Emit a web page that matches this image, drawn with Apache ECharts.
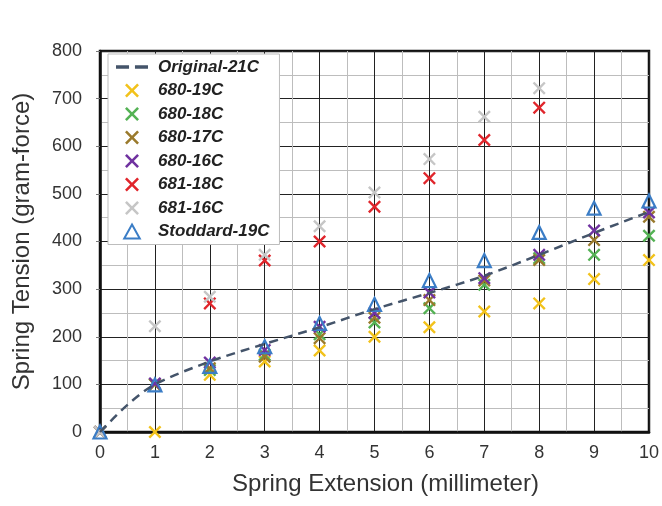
<!DOCTYPE html>
<html>
<head>
<meta charset="utf-8">
<script src="https://cdn.jsdelivr.net/npm/echarts@6/dist/echarts.min.js"></script>
<style>
  html, body { margin: 0; padding: 0; background: #fff; }
  #chart { width: 662px; height: 506px; }
</style>
</head>
<body>
<div id="chart"></div>
<script>
  // spring extension in millimeter (x positions of the measured points)
  const extension = [0, 1, 2, 3, 4, 5, 6, 7, 8, 9, 10];

  // tension in gram-force (null = no point)
  const s680_19C = [0, 0, 120, 148, 171, 200, 220, 253, 270, 321, 361];
  const s680_18C = [0, 100, 130, 162, 205, 230, 260, 309, 365, 372, 412];
  const s680_17C = [0, 100, 134, 158, 197, 240, 277, 318, 361, 403, 452];
  const s680_16C = [0, 102, 146, 172, 221, 250, 293, 323, 372, 423, 461];
  const s681_18C = [null, null, 270, 360, 400, 473, 533, 613, 681, null, null];
  const s681_16C = [0, 222, 284, 372, 432, 503, 573, 662, 722, null, null];
  const stoddard = [0, 99, 138, 179, 228, 268, 318, 360, 419, 470, 485];

  // reference curve Original-21C
  const originalX = [0, 0.5, 1, 2, 3, 4, 5, 6, 7, 8, 9, 10];
  const originalY = [0, 57, 100, 148, 185, 220, 258, 292, 328, 372, 418, 462];

  const xTicks = [0, 10, 1];
  const yTicks = [0, 800, 100];

  const FONT = '"Liberation Sans", Arial, sans-serif';
  const CROSS = 'path://M0,1.3L1.3,0L5,3.7L8.7,0L10,1.3L6.3,5L10,8.7L8.7,10L5,6.3L1.3,10L0,8.7L3.7,5Z';
  const DASHES = 'path://M0,0H11V3H0Z M16,0H27V3H16Z';
  const TRI = 'path://M5,0L10,9L0,9Z';

  function pairs(xs, ys) {
    const out = [];
    xs.forEach((x, i) => { if (ys[i] != null) out.push([x, ys[i]]); });
    return out;
  }

  function crossSeries(name, color, values) {
    return {
      name: name,
      type: 'scatter',
      symbol: CROSS,
      symbolSize: 13,
      itemStyle: { color: color, opacity: 1 },
      data: pairs(extension, values),
    };
  }

  const myChart = echarts.init(document.getElementById('chart'), null, { renderer: 'canvas' });
  myChart.setOption({
    backgroundColor: '#fff',
    animation: false,
    textStyle: { fontFamily: FONT },
    grid: {
      left: 100, right: 12, top: 51, bottom: 74,
      show: true, borderColor: '#111', borderWidth: 2.5,
    },
    legend: {
      orient: 'vertical',
      left: 108,
      top: 54,
      padding: [4, 10, 4, 8],
      backgroundColor: '#fff',
      borderColor: '#bdbdbd',
      borderWidth: 1,
      itemWidth: 32,
      itemHeight: 14,
      itemGap: 5.5,
      textStyle: {
        fontFamily: FONT, fontSize: 17, fontStyle: 'italic', fontWeight: 'bold',
        color: '#222', lineHeight: 18, padding: [0, 0, 0, 5],
      },
      data: [
        { name: 'Original-21C', icon: DASHES },
        '680-19C', '680-18C', '680-17C', '680-16C', '681-18C', '681-16C',
        { name: 'Stoddard-19C', icon: TRI },
      ],
    },
    xAxis: {
      type: 'value',
      min: xTicks[0], max: xTicks[1], interval: xTicks[2],
      name: 'Spring Extension (millimeter)',
      nameLocation: 'middle',
      nameGap: 40,
      nameTextStyle: { fontSize: 24, color: '#333', fontFamily: FONT, padding: [0, 0, 0, 22] },
      axisLine: { show: true, lineStyle: { color: '#111', width: 2.5 } },
      axisTick: { show: false },
      axisLabel: { fontSize: 18, color: '#333', margin: 12, fontFamily: FONT },
      splitLine: { show: true, lineStyle: { color: '#222', width: 1 } },
      minorTick: { show: false, splitNumber: 2 },
      minorSplitLine: { show: true, lineStyle: { color: '#bdbdbd', width: 1 } },
    },
    yAxis: {
      type: 'value',
      min: yTicks[0], max: yTicks[1], interval: yTicks[2],
      name: 'Spring Tension (gram-force)',
      nameLocation: 'middle',
      nameGap: 66,
      nameTextStyle: { fontSize: 24, color: '#333', fontFamily: FONT },
      axisLine: { show: true, lineStyle: { color: '#111', width: 2.5 } },
      axisTick: { show: true, length: 4, lineStyle: { color: '#777' } },
      axisLabel: { fontSize: 18, color: '#333', margin: 18, fontFamily: FONT },
      splitLine: { show: true, lineStyle: { color: '#222', width: 1 } },
      minorTick: { show: false, splitNumber: 2 },
      minorSplitLine: { show: true, lineStyle: { color: '#bdbdbd', width: 1 } },
    },
    series: [
      {
        name: 'Original-21C',
        type: 'line',
        smooth: 0.3,
        symbol: 'none',
        lineStyle: { color: '#44546a', width: 2.5, type: [9, 6] },
        itemStyle: { color: '#44546a' },
        data: pairs(originalX, originalY),
      },
      crossSeries('680-19C', '#f2c21b', s680_19C),
      crossSeries('680-18C', '#54b254', s680_18C),
      crossSeries('680-17C', '#9a7a2c', s680_17C),
      crossSeries('680-16C', '#7032a0', s680_16C),
      crossSeries('681-18C', '#e0252b', s681_18C),
      crossSeries('681-16C', '#c6c6c6', s681_16C),
      {
        name: 'Stoddard-19C',
        type: 'scatter',
        symbol: 'triangle',
        symbolSize: 13,
        itemStyle: { color: 'rgba(255,255,255,0)', borderColor: '#3b7dc6', borderWidth: 2.2, opacity: 1 },
        data: pairs(extension, stoddard),
      },
    ],
  });
</script>
</body>
</html>
